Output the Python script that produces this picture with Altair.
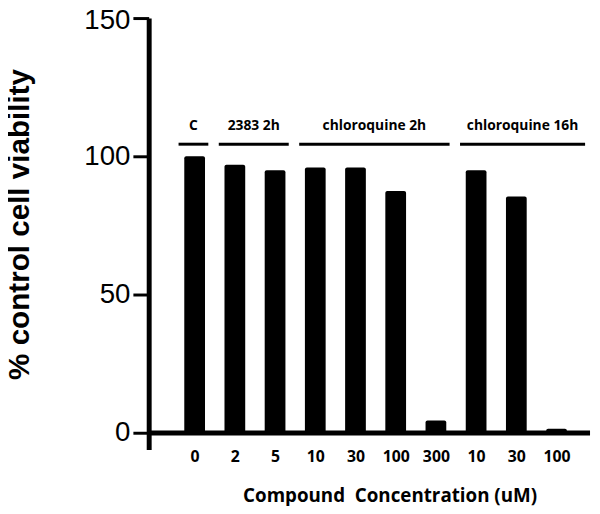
import json
import altair as alt
import pandas as pd

# ---- data ----
conc_labels = ["0", "2", "5", "10", "30", "100", "300", "10", "30", "100"]
viability = [100, 97, 95, 96, 96, 87.5, 4.5, 95, 85.5, 1.5]
group_names = ["C", "2383 2h", "chloroquine 2h", "chloroquine 16h"]
group_first = [0, 1, 3, 7]
group_last = [0, 2, 6, 9]

X_MIN, X_MAX = -1.02, 9.71
bar_df = pd.DataFrame({"idx": list(range(len(viability))), "v": viability})

line_start = [f - 0.4 for f in group_first]
line_end = [l + 0.34 if i < len(group_last) - 1 else X_MAX
            for i, l in enumerate(group_last)]
grp_df = pd.DataFrame({
    "name": group_names,
    "x1": line_start,
    "x2": line_end,
    "xm": [(a + b) / 2 for a, b in zip(line_start, line_end)],
    "ly": [104.4] * len(group_names),
    "ty": [109.6] * len(group_names),
})

xscale = alt.Scale(domain=[X_MIN, X_MAX], nice=False, zero=False)
yscale = alt.Scale(domain=[-6, 150], nice=False, zero=False)

label_expr = json.dumps(conc_labels) + "[datum.value]"

bars = alt.Chart(bar_df).mark_bar(color="black", size=21, cornerRadius=2).encode(
    x=alt.X("idx:Q", scale=xscale,
            axis=alt.Axis(values=list(range(len(conc_labels))), labelExpr=label_expr,
                          ticks=False, domain=False, grid=False,
                          labelFont="Open Sans", labelFontWeight="bold", labelFontSize=16,
                          labelColor="black", labelPadding=-1, labelFlush=False,
                          title="Compound\u00a0 Concentration (uM)",
                          titleFont="Open Sans", titleFontWeight="bold", titleFontSize=19,
                          titleColor="black", titleX=244, titleY=53,
                          titleBaseline="alphabetic", titleAnchor="start", titleAlign="center")),
    y=alt.Y("v:Q", scale=yscale,
            axis=alt.Axis(values=[0, 50, 100, 150], grid=False,
                          domainColor="black", domainWidth=5,
                          tickColor="black", tickWidth=3, tickSize=16,
                          labelFont="Liberation Sans", labelFontSize=28,
                          labelColor="black", labelPadding=3,
                          labelOffset={"condition": {"test": "datum.value == 150", "value": 3}, "value": 0},
                          title="% control cell viability",
                          titleFont="Liberation Sans", titleFontWeight="bold",
                          titleFontSize=30, titleColor="black",
                          titleX=-131, titleY=208.5, titleAngle=-90,
                          titleAlign="center", titleBaseline="middle")),
    y2=alt.datum(0),
)

base_rule = alt.Chart(pd.DataFrame({"z": [0]})).mark_rule(
    color="black", strokeWidth=5).encode(y=alt.Y("z:Q", scale=yscale))

grp_lines = alt.Chart(grp_df).mark_rule(color="black", strokeWidth=3).encode(
    x=alt.X("x1:Q", scale=xscale), x2="x2:Q", y=alt.Y("ly:Q", scale=yscale))

grp_text = alt.Chart(grp_df).mark_text(
    font="Open Sans", fontWeight="bold", fontSize=14, color="black",
    align="center", baseline="alphabetic").encode(
    x=alt.X("xm:Q", scale=xscale), y=alt.Y("ty:Q", scale=yscale), text="name:N")

chart = alt.layer(bars, base_rule, grp_lines, grp_text).properties(
    width=447, height=437,
    autosize=alt.AutoSizeParams(type="none"),
    padding={"left": 142.5, "top": 7, "right": 2, "bottom": 54},
).configure_view(stroke=None)

chart.save("out.html", embed_options={"renderer": "svg", "actions": False})
